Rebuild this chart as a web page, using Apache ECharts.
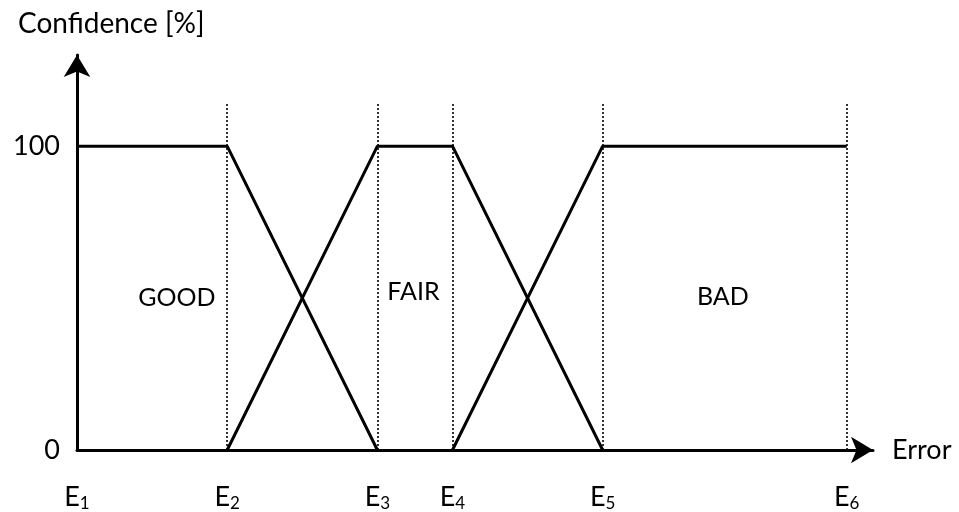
<!DOCTYPE html>
<html>
<head>
<meta charset="utf-8">
<script src="https://cdn.jsdelivr.net/npm/echarts@6/dist/echarts.min.js"></script>
<style>
  html, body { margin: 0; padding: 0; background: #fff; }
  #chart { width: 959px; height: 512px; }
</style>
</head>
<body>
<div id="chart"></div>
<script>
// breakpoints E1..E6 on the error axis
const edges = [0, 2, 4, 5, 7, 10.25];
const edgeSubs = ['1', '2', '3', '4', '5', '6'];
const yTicks = [0, 100];

// membership functions (error, confidence)
const goodX = [edges[0], edges[1], edges[2]];
const goodY = [100, 100, 0];
const fairX = [edges[1], edges[2], edges[3], edges[4]];
const fairY = [0, 100, 100, 0];
const badX = [edges[3], edges[4], edges[5]];
const badY = [0, 100, 100];

// region names and where they sit
const regionNames = ['GOOD', 'FAIR', 'BAD'];
const regionX = [1.33, 4.48, 8.6];
const regionY = [50, 52, 50.5];

const font = 'Lato';
const zip = (xs, ys) => xs.map((x, i) => [x, ys[i]]);

const chart = echarts.init(document.getElementById('chart'));

const lineStyle = { color: '#000', width: 3 };

chart.setOption({
  animation: false,
  title: {
    text: 'Confidence [%]',
    left: 13, top: 5,
    textStyle: { fontFamily: font, fontSize: 28, fontWeight: 'normal', color: '#000' }
  },
  grid: { left: 77, right: 86, top: 55, bottom: 62 },
  xAxis: {
    type: 'value', min: 0, max: 10.6,
    name: 'Error', nameLocation: 'end', nameGap: 19,
    nameTextStyle: { fontFamily: font, fontSize: 27, color: '#000', verticalAlign: 'middle' },
    axisLine: { lineStyle: { color: '#000', width: 3 }, symbol: ['none', 'arrow'], symbolSize: [20, 22] },
    axisTick: { show: false },
    splitLine: { show: false },
    axisLabel: {
      customValues: edges,
      margin: 33,
      formatter: v => '{e|E}{s|' + edgeSubs[edges.indexOf(v)] + '}',
      rich: {
        e: { fontFamily: font, fontSize: 27, color: '#000' },
        s: { fontFamily: font, fontSize: 17, color: '#000', padding: [12, 0, 0, 0] }
      }
    }
  },
  yAxis: {
    type: 'value', min: 0, max: 130,
    axisLine: { show: true, lineStyle: { color: '#000', width: 3 }, symbol: ['none', 'arrow'], symbolSize: [20, 22] },
    axisTick: { show: false },
    splitLine: { show: false },
    axisLabel: {
      customValues: yTicks,
      margin: 17,
      fontFamily: font, fontSize: 27, color: '#000'
    }
  },
  series: [
    {
      type: 'line', data: zip(goodX, goodY), symbol: 'none', lineStyle: lineStyle, z: 3,
      markLine: {
        silent: true, symbol: 'none', label: { show: false }, z: 1,
        lineStyle: { color: '#000', type: [2, 2], width: 1.6 },
        data: edges.map(e => [{ coord: [e, 0] }, { coord: [e, 114.5] }])
      }
    },
    { type: 'line', data: zip(fairX, fairY), symbol: 'none', lineStyle: lineStyle, z: 3 },
    { type: 'line', data: zip(badX, badY), symbol: 'none', lineStyle: lineStyle, z: 3 },
    {
      type: 'scatter', symbolSize: 0, itemStyle: { opacity: 1 },
      data: regionNames.map((n, i) => ({ name: n, value: [regionX[i], regionY[i]] })),
      label: {
        show: true, position: 'inside', formatter: '{b}',
        fontFamily: font, fontSize: 25, color: '#000', textBorderWidth: 0
      }
    }
  ]
});
</script>
</body>
</html>
